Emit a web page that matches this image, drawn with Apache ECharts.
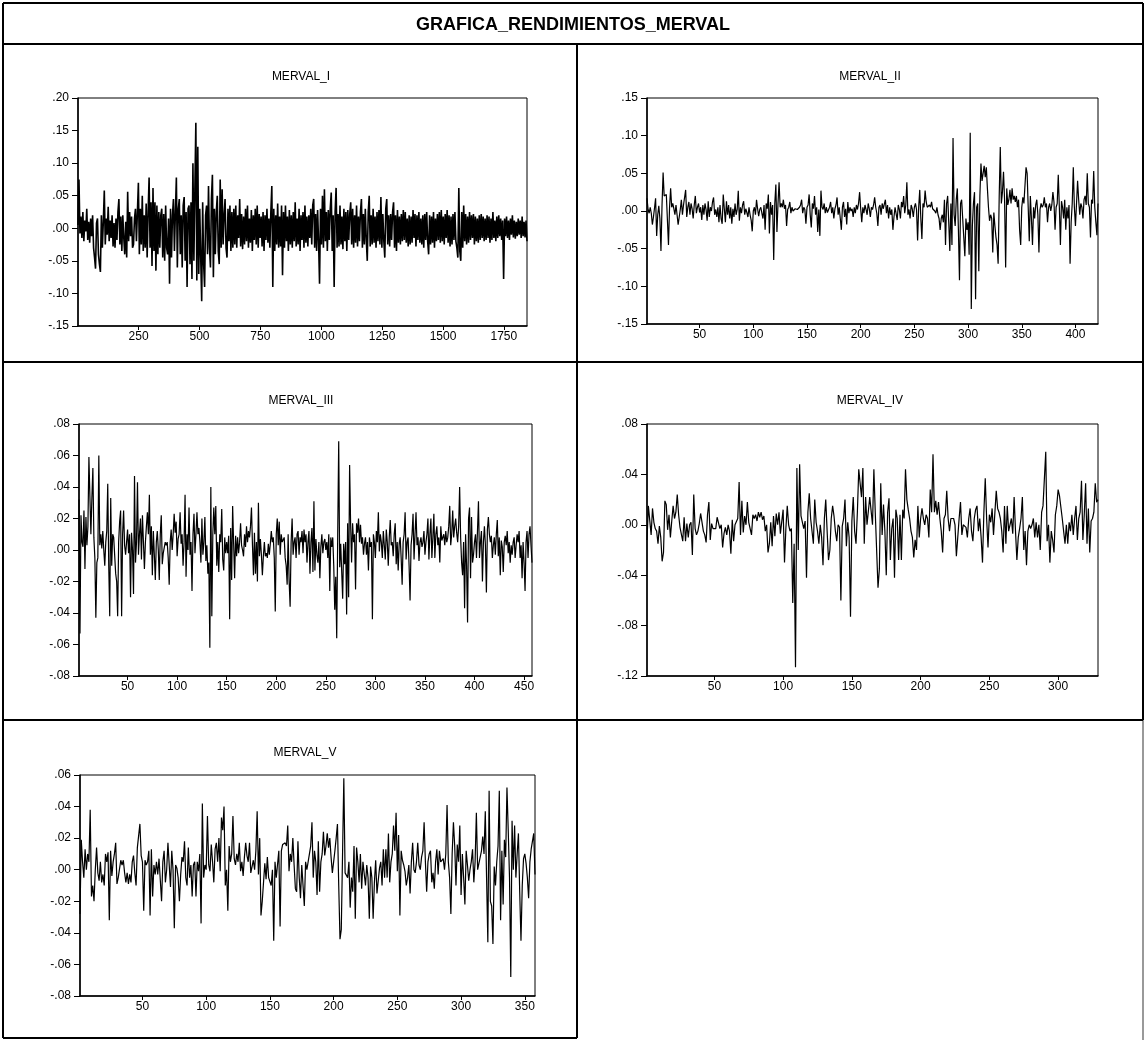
<!DOCTYPE html>
<html>
<head>
<meta charset="utf-8">
<script src="https://cdn.jsdelivr.net/npm/echarts@6.0.0/dist/echarts.min.js"></script>
<style>
html,body{margin:0;padding:0;background:#fff;}
#main{width:1145px;height:1040px;}
</style>
</head>
<body>
<div id="main"></div>
<script>
var mainTitle = 'GRAFICA_RENDIMIENTOS_MERVAL';
var panelNames = ['MERVAL_I', 'MERVAL_II', 'MERVAL_III', 'MERVAL_IV', 'MERVAL_V'];

// rendimientos en milesimas (0.001)
// MERVAL_I: una observacion de cada 4 (obs 1, 5, 9, ...)
var stepI = 4;
var mervalI = [
 5,75,-8,18,-15,25,-20,12,-5,30,-18,10,-22,15,-12,20,-30,-45,-62,8,
 15,-40,-55,-67,20,-30,10,58,-25,15,-10,33,-20,12,-15,20,-28,8,-30,15,
 -18,25,45,-25,18,-35,20,-15,-40,10,-45,56,-20,25,-12,18,-30,-25,15,30,
 -20,25,70,-40,30,-25,50,-35,20,-30,38,-45,25,78,-30,40,-58,62,-35,40,
 -65,35,-40,25,-30,20,30,-45,22,-50,35,-30,-40,15,-85,30,-45,20,45,-35,
 25,78,-60,30,45,-40,20,-60,35,48,-50,25,-90,30,35,-55,40,-78,100,-50,
 60,162,-80,125,-70,30,-45,-112,40,-55,-90,20,35,-40,65,-30,-60,45,82,-75,
 30,-40,25,50,-35,-55,75,-30,60,-25,20,45,-30,-45,30,-20,35,-35,25,-30,
 30,-25,35,-30,20,-15,45,-28,22,-32,18,-25,30,-20,35,-30,15,-22,28,-35,
 20,-18,30,-25,35,-30,22,-15,18,-28,25,-35,20,-18,30,-22,15,-30,25,65,
 -90,30,-35,20,-25,38,-30,18,-28,35,-72,25,-30,35,-20,18,-35,28,-25,20,
 -30,25,-20,40,-28,15,-25,30,-35,20,-18,25,-30,35,-22,18,-28,20,-15,30,
 -25,35,45,-30,22,-35,28,-20,-85,30,-25,50,-30,60,-20,25,-35,28,-18,30,
 55,-35,20,-90,25,62,-30,22,-28,35,-25,18,-32,30,-20,25,-35,28,-18,22,
 40,-25,30,-30,20,-22,35,-28,18,-20,25,45,-30,22,-25,30,-18,-50,25,50,
 -28,20,-25,30,-22,18,-30,25,-20,28,-25,48,-30,22,-20,-45,30,45,-25,20,
 -28,22,-18,25,40,-30,20,-35,28,-22,18,-25,22,-20,28,-18,25,-22,15,-28,
 20,-25,18,-22,28,-15,22,-28,20,-18,25,-22,15,-25,20,-30,22,-18,25,-20,
 -40,20,-25,18,-22,25,-30,15,-20,22,-18,25,-22,28,-20,18,-25,22,-15,28,
 -22,20,-28,18,-25,22,-18,25,-20,-30,-45,62,-35,-50,25,-30,35,-20,22,-25,
 18,-22,25,-18,20,-15,22,-25,18,-20,15,-22,20,-18,22,-15,18,-20,15,-18,
 20,-15,18,-22,15,-18,25,-15,12,-20,18,-15,20,-12,15,-18,12,-78,15,-12,
 18,-15,12,-18,15,-10,20,-14,12,-16,10,-12,15,-10,12,-15,18,-12,10,-14,12,-20
];
var mervalII = [
 17,2,-3,5,-3,-18,-8,4,17,-33, -5,7,-10,-53,8,51,20,18,22,20,
 -45,5,30,5,10,3,-5,8,-5,-18, -8,2,15,-5,8,10,28,-8,5,12,
 -5,10,3,-10,8,20,-3,5,10,-2, 5,-12,8,-5,10,2,-13,13,-8,5,
 0,12,18,-5,2,-8,5,-15,8,-10, -17,22,3,-15,13,-5,8,-10,5,-17,
 3,-8,10,-5,2,27,-13,5,-3,8, 13,-5,3,-2,-8,5,-5,-12,-27,0,
 5,-5,15,3,-7,2,5,-3,-10,8, -25,10,3,22,-30,12,-5,8,-65,10,
 35,-28,10,38,5,10,5,15,3,8, -20,2,5,12,-3,5,0,-2,3,5,
 2,0,5,8,15,-3,5,2,-17,5, 8,22,-5,-22,10,3,20,-5,5,-28,
 2,-33,27,5,2,10,-3,5,-2,0, 5,12,-3,5,-10,3,8,18,-5,5,
 -10,-25,5,12,-8,3,-18,12,-3,5, 0,3,-8,5,-3,8,2,10,25,3,
 -15,5,-3,8,2,-5,10,3,-8,5, 2,8,18,5,-3,-20,5,8,-5,10,
 3,5,15,-3,8,-10,5,-5,2,-25, -8,5,3,-12,8,2,-10,12,5,20,
 -3,8,38,-5,2,-10,8,3,-8,5, 10,2,-39,5,28,-10,-37,10,5,27,
 12,5,3,8,5,12,3,5,0,-3, 5,-5,-10,-25,-10,-5,-15,15,-45,10,
 20,-15,-53,10,-45,97,-5,-20,15,30, -25,-92,10,15,-10,-35,-60,-10,-25,-15,
 -58,104,-130,-20,10,25,-117,5,10,-80, 20,63,40,50,60,45,58,30,5,-13,
 -5,-10,-55,-2,-20,-35,-45,-70,20,85, 10,25,52,15,-75,30,8,15,28,10,
 30,15,20,12,20,5,15,-25,-45,5, 18,10,12,58,50,5,-40,20,-10,-45,
 5,-10,8,15,-5,-55,2,10,5,8, 18,5,10,-15,5,10,0,8,25,12,
 -25,5,10,48,5,-45,13,5,-10,15, -25,5,-10,8,-70,-15,10,58,5,-20,
 10,40,15,-5,10,5,-10,15,20,8, 50,10,5,-35,15,10,53,5,-15,-32,
 10
];
var mervalIII = [
 32,-53,22,5,2,25,-12,21,3,15, 59,34,10,33,52,8,-5,-43,-8,-5,
 60,3,10,1,12,0,-10,5,12,42, -10,-42,33,-10,10,8,8,-15,-20,-42,
 5,18,25,-42,10,25,3,-3,5,13, -2,10,-30,11,0,-28,47,-8,5,43,
 -3,10,20,-6,22,5,-12,5,15,24, 10,35,-3,15,-16,12,-3,-19,5,12,
 0,-19,10,22,-9,-2,-1,5,3,5, -5,-22,5,13,0,10,23,11,18,-4,
 7,10,24,4,10,-10,5,35,-17,10, 0,27,-3,5,-26,10,23,-2,10,24,
 10,14,5,-8,20,-3,5,21,-7,3, -15,-8,-62,40,-42,10,27,10,28,-10,
 5,-14,10,5,26,-6,-13,8,-2,5, -2,9,-44,14,-19,28,4,-18,9,-4,
 8,-2,5,17,3,0,-4,10,2,15, 5,12,8,15,27,3,-16,11,-15,5,
 -20,30,-4,7,-3,-16,-4,5,-4,-2, -5,4,-3,4,12,5,8,-5,-39,10,
 20,3,18,-3,10,5,4,8,-5,-10, -22,10,-20,-36,5,20,-3,5,8,-5,
 10,12,-3,8,5,12,-2,13,5,10, -8,5,12,-15,5,14,-14,31,-13,7,
 -3,-8,5,-18,2,10,-2,5,7,0, 5,-5,10,-26,8,2,8,-10,-38,-17,
 -56,10,69,-11,4,5,-31,4,-9,5, -41,17,-30,54,17,-8,17,5,10,-25,
 17,11,20,5,16,4,8,-3,4,8, -3,5,-13,8,2,5,-44,10,5,-5,
 12,5,24,-1,10,5,-5,12,3,-6, 13,5,-10,8,19,3,5,-4,10,17,
 -9,5,-13,4,8,-5,-22,5,10,24, -6,5,8,-10,-32,3,10,23,-6,10,
 24,3,8,-7,5,8,2,5,12,-3, 5,10,20,-6,10,20,-5,8,23,-5,
 10,15,3,8,-8,15,6,5,10,3, 12,5,8,15,28,3,10,25,8,15,
 20,11,5,15,40,8,-8,-16,5,-37, 10,-10,-46,20,27,-18,21,-8,-3,5,
 10,-5,12,31,-5,5,12,-20,5,15, 3,-27,13,21,10,5,9,-5,3,8,
 -3,10,19,-4,8,-16,6,2,-14,5, 9,3,12,-2,5,-8,3,-3,5,8,
 -5,3,10,5,12,-5,3,-18,5,-8, -26,5,12,-5,10,15,3,-8
];
var mervalIV = [
 -12,15,15,-8,13,2,-3,-5,-15,-1, -10,-29,-22,19,16,-4,8,-10,3,15,
 5,10,24,8,-2,-3,-13,6,-13,1, -10,0,2,-24,24,-3,-8,-5,1,9,
 9,-5,-8,-14,8,18,-12,1,-3,-2, -3,6,6,-3,0,-18,-7,-2,-8,0,
 -5,-23,4,-13,0,0,5,34,-8,19, -6,7,0,18,2,-3,-8,8,5,8,
 3,10,6,10,4,7,-5,0,-22,-15, 2,-17,7,-9,9,0,10,-7,-8,12,
 -30,-3,15,0,-5,-3,-62,-15,-113,45, -20,48,7,6,-3,3,-42,10,25,5,
 5,-15,20,2,-5,-15,0,-10,-32,5, 20,-5,-28,-20,5,15,7,-5,-13,0,
 -2,-60,-1,5,20,-17,2,-10,-73,3, 22,-5,-15,10,44,45,22,45,-15,22,
 0,0,22,22,0,44,10,-20,-50,-35, 33,-8,16,-5,-40,10,21,-28,-3,5,
 -42,12,5,-28,8,-28,12,5,44,20, 12,5,-5,-10,-26,-12,-20,15,-10,5,
 13,5,0,8,5,-10,28,10,56,10, 19,8,18,5,-5,-22,5,8,27,5,
 -5,5,4,5,0,-25,-10,5,18,-8, 0,0,-2,-10,5,13,-5,-13,5,12,
 15,-5,5,-10,-30,10,37,5,-18,8, 2,13,-8,-8,27,13,10,5,-5,-22,
 15,-15,15,-5,0,5,-7,22,-5,-28, -10,-3,5,22,-20,-5,-32,-5,0,-3,
 0,5,-10,2,-10,0,-20,10,15,15, 58,-13,0,-30,-5,-12,-22,8,15,28,
 23,22,5,-5,-15,0,-15,2,-5,8, -8,5,15,-12,5,10,35,-12,8,33,
 -15,13,-22,3,5,10,33,18,20
];
var mervalV = [
 -28,19,5,-5,13,0,10,5,38,-17, -10,-20,0,14,-2,-7,5,-8,-3,-10,
 10,5,11,-32,12,-4,5,10,17,-9, -5,-5,6,3,6,-2,-8,-2,-9,-3,
 -8,5,9,-2,-10,14,13,29,9,5, -26,6,3,5,12,-29,13,-17,3,-3,
 5,-3,7,8,-20,5,12,-8,0,17, 17,-11,12,0,-37,3,1,-5,-20,-3,
 8,5,18,-5,-10,14,-5,3,-17,3, 5,-17,5,-1,10,-34,42,-5,3,0,
 34,3,-1,16,5,-8,13,17,5,20, -1,33,25,40,-10,0,-26,15,5,10,
 34,7,3,10,5,17,-1,5,-4,8, 17,9,5,17,-2,2,6,0,12,37,
 -3,20,-29,-20,-20,4,-6,8,-5,-5, -10,0,-45,5,-5,-5,12,-36,12,16,
 16,17,15,28,-1,10,5,20,3,-12, -14,18,-5,-18,3,-10,-23,5,0,5,
 5,15,30,-5,12,5,-16,18,-14,5, 10,24,9,15,23,14,20,8,-2,5,
 12,20,29,-10,-44,-38,10,58,-2,-2, -5,5,-24,-5,-14,15,-31,14,5,-8,
 10,-12,5,6,-10,3,-5,-31,2,-5, -31,-8,6,-15,-7,1,5,-10,13,-5,
 13,-5,23,-8,5,10,28,12,36,-1, 22,-29,12,6,3,-1,-10,-5,3,-15,
 5,17,0,-2,5,17,3,0,8,12, 30,5,-14,5,10,12,-8,-2,-12,5,
 13,-3,12,5,6,7,0,10,41,5, -5,-28,10,30,15,-10,16,5,28,-16,
 10,-5,-22,12,3,-7,0,5,13,-8, 5,36,0,4,5,12,21,10,37,-5,
 -46,50,-20,-23,-47,2,-10,5,15,50, -32,12,-22,19,8,52,25,-5,-68,31,
 0,28,-5,10,23,-14,-45,-10,7,10, 4,-5,-18,5,13,12,23,-3
];

var ticksI = [250, 500, 750, 1000, 1250, 1500, 1750];
var ticksII = [50, 100, 150, 200, 250, 300, 350, 400];
var ticksIII = [50, 100, 150, 200, 250, 300, 350, 400, 450];
var ticksIV = [50, 100, 150, 200, 250, 300];
var ticksV = [50, 100, 150, 200, 250, 300, 350];

// [min, max, paso] del eje vertical
var yI = [-0.15, 0.20, 0.05];
var yII = [-0.15, 0.15, 0.05];
var yIII = [-0.08, 0.08, 0.02];
var yIV = [-0.12, 0.08, 0.04];
var yV = [-0.08, 0.06, 0.02];

var FONT = '"Liberation Sans", Arial, sans-serif';

function yFmt(v) {
    var a = Math.abs(v).toFixed(2).slice(1);
    return (v < -1e-6 ? '-' : '') + a;
}
function xFmt(v) {
    return String(Math.round(v));
}
function toPairs(arr, step) {
    return arr.map(function (v, i) { return [1 + i * step, v / 1000]; });
}

var panels = [
    {name: panelNames[0], data: toPairs(mervalI, stepI), xmax: 1 + (mervalI.length - 1) * stepI, ticks: ticksI, y: yI,
     grid: {left: 78, top: 98, width: 449, height: 228}, tx: 301, ty: 77, lw: 1.6},
    {name: panelNames[1], data: toPairs(mervalII, 1), xmax: mervalII.length, ticks: ticksII, y: yII,
     grid: {left: 647, top: 98, width: 451, height: 226}, tx: 870, ty: 77, lw: 1.2},
    {name: panelNames[2], data: toPairs(mervalIII, 1), xmax: mervalIII.length, ticks: ticksIII, y: yIII,
     grid: {left: 79, top: 424, width: 453, height: 252}, tx: 301, ty: 401, lw: 1.2},
    {name: panelNames[3], data: toPairs(mervalIV, 1), xmax: mervalIV.length, ticks: ticksIV, y: yIV,
     grid: {left: 647, top: 424, width: 451, height: 252}, tx: 870, ty: 401, lw: 1.2},
    {name: panelNames[4], data: toPairs(mervalV, 1), xmax: mervalV.length, ticks: ticksV, y: yV,
     grid: {left: 80, top: 775, width: 455, height: 221}, tx: 305, ty: 753, lw: 1.2}
];

var grids = [], xAxes = [], yAxes = [], series = [];
var graphics = [];

panels.forEach(function (p, k) {
    grids.push({
        left: p.grid.left, top: p.grid.top, width: p.grid.width, height: p.grid.height,
        show: true, borderColor: '#000', borderWidth: 1, containLabel: false
    });
    xAxes.push({
        type: 'value', gridIndex: k, min: 1, max: p.xmax,
        axisLine: {show: true, onZero: false, lineStyle: {color: '#000', width: 1.5}},
        axisTick: {show: true, length: 4, lineStyle: {color: '#000'}, customValues: p.ticks},
        axisLabel: {customValues: p.ticks, formatter: xFmt, color: '#000', fontSize: 12, fontFamily: FONT, margin: 5},
        splitLine: {show: false}
    });
    yAxes.push({
        type: 'value', gridIndex: k, min: p.y[0], max: p.y[1], interval: p.y[2],
        axisLine: {show: true, onZero: false, lineStyle: {color: '#000', width: 1.5}},
        axisTick: {show: true, length: 6, lineStyle: {color: '#000'}},
        axisLabel: {formatter: yFmt, color: '#000', fontSize: 12, fontFamily: FONT, margin: 9},
        splitLine: {show: false}
    });
    series.push({
        type: 'line', xAxisIndex: k, yAxisIndex: k, data: p.data,
        symbol: 'none', showSymbol: false, silent: true,
        lineStyle: {color: '#000', width: p.lw}
    });
    graphics.push({
        type: 'text', silent: true,
        style: {text: p.name, x: p.tx, y: p.ty, textAlign: 'center', textVerticalAlign: 'middle',
                font: '12px ' + FONT, fill: '#000'}
    });
});

// marco de la hoja
function frameLine(x1, y1, x2, y2, color) {
    return {type: 'line', silent: true, shape: {x1: x1, y1: y1, x2: x2, y2: y2},
            style: {stroke: color || '#000', lineWidth: 2}};
}
graphics.push(
    frameLine(3, 3, 1143, 3),
    frameLine(3, 3, 3, 1038),
    frameLine(3, 44, 1143, 44),
    frameLine(1143, 3, 1143, 720),
    frameLine(1143, 720, 1143, 1040, '#999'),
    frameLine(577, 44, 577, 1038),
    frameLine(3, 362, 1143, 362),
    frameLine(3, 720, 1143, 720),
    frameLine(3, 1038, 577, 1038),
    {type: 'text', silent: true,
     style: {text: mainTitle, x: 573, y: 25, textAlign: 'center', textVerticalAlign: 'middle',
             font: 'bold 18px ' + FONT, fill: '#000'}}
);

var chart = echarts.init(document.getElementById('main'), null, {renderer: 'canvas'});
chart.setOption({
    animation: false,
    backgroundColor: '#fff',
    grid: grids,
    xAxis: xAxes,
    yAxis: yAxes,
    series: series,
    graphic: graphics
});
</script>
</body>
</html>
